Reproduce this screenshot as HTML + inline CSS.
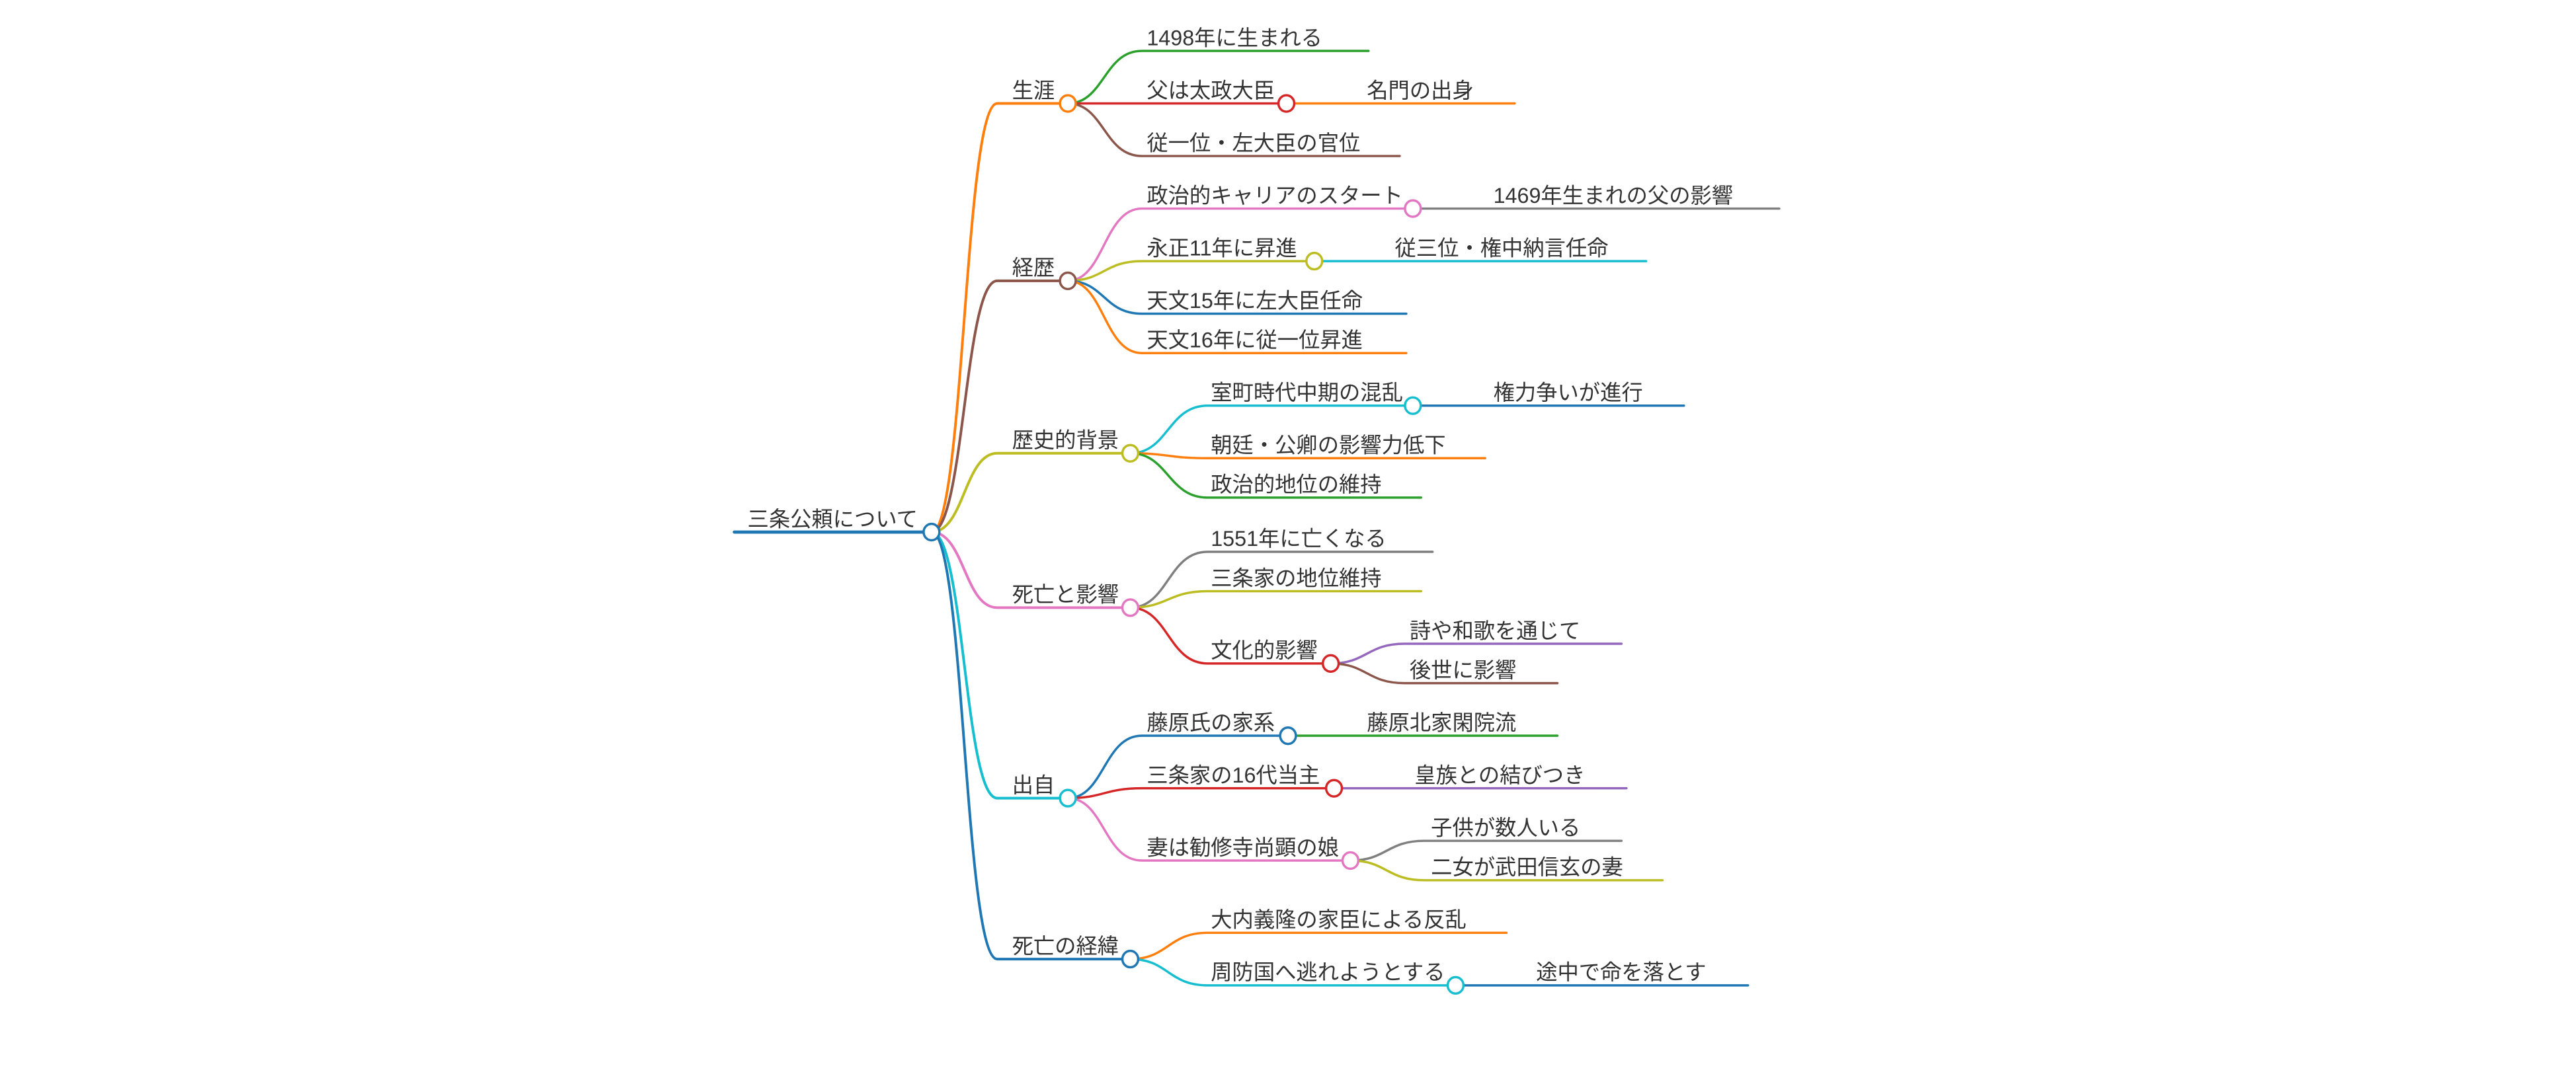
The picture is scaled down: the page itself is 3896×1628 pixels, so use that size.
<!DOCTYPE html>
<html><head><meta charset="utf-8"><style>
html,body{margin:0;padding:0;background:#fff;}
svg{display:block;}
text{font-family:"Liberation Sans","Noto Sans CJK JP",sans-serif;font-size:13px;fill:#333;}
path{fill:none;stroke-linecap:round;}
circle,ellipse{fill:#fff;stroke-width:1.4;}
</style></head><body>
<svg width="3896" height="1628" viewBox="0 0 1568 655.2" xmlns="http://www.w3.org/2000/svg">
<path d="M447 324 L567 324" stroke="#1f77b4" stroke-width="2"/>
<path d="M567 324 C587 324,587 63,607 63 L650 63" stroke="#ff7f0e" stroke-width="1.6"/>
<path d="M567 324 C587 324,587 171,607 171 L650 171" stroke="#8c564b" stroke-width="1.6"/>
<path d="M567 324 C587 324,587 276,607 276 L688 276" stroke="#bcbd22" stroke-width="1.6"/>
<path d="M567 324 C587 324,587 370,607 370 L688 370" stroke="#e377c2" stroke-width="1.6"/>
<path d="M567 324 C587 324,587 486,607 486 L650 486" stroke="#17becf" stroke-width="1.6"/>
<path d="M567 324 C587 324,587 584,607 584 L688 584" stroke="#1f77b4" stroke-width="1.6"/>
<path d="M650 63 C672 63,672 31,695 31 L833 31" stroke="#2ca02c" stroke-width="1.4"/>
<path d="M650 63 L783 63" stroke="#d62728" stroke-width="1.4"/>
<path d="M783 63 L922 63" stroke="#ff7f0e" stroke-width="1.4"/>
<path d="M650 63 C672 63,672 95,695 95 L852 95" stroke="#8c564b" stroke-width="1.4"/>
<path d="M650 171 C672 171,672 127,695 127 L860 127" stroke="#e377c2" stroke-width="1.4"/>
<path d="M860 127 L1083 127" stroke="#7f7f7f" stroke-width="1.4"/>
<path d="M650 171 C672 171,672 159,695 159 L800 159" stroke="#bcbd22" stroke-width="1.4"/>
<path d="M800 159 L1002 159" stroke="#17becf" stroke-width="1.4"/>
<path d="M650 171 C672 171,672 191,695 191 L856 191" stroke="#1f77b4" stroke-width="1.4"/>
<path d="M650 171 C672 171,672 215,695 215 L856 215" stroke="#ff7f0e" stroke-width="1.4"/>
<path d="M688 276 C711 276,711 247,735 247 L860 247" stroke="#17becf" stroke-width="1.4"/>
<path d="M860 247 L1025 247" stroke="#1f77b4" stroke-width="1.4"/>
<path d="M688 276 C711 276,711 279,735 279 L904 279" stroke="#ff7f0e" stroke-width="1.4"/>
<path d="M688 276 C711 276,711 303,735 303 L865 303" stroke="#2ca02c" stroke-width="1.4"/>
<path d="M688 370 C711 370,711 336,735 336 L872 336" stroke="#7f7f7f" stroke-width="1.4"/>
<path d="M688 370 C711 370,711 360,735 360 L865 360" stroke="#bcbd22" stroke-width="1.4"/>
<path d="M688 370 C711 370,711 404,735 404 L810 404" stroke="#d62728" stroke-width="1.4"/>
<path d="M810 404 C832 404,832 392,855 392 L987 392" stroke="#9467bd" stroke-width="1.4"/>
<path d="M810 404 C832 404,832 416,855 416 L948 416" stroke="#8c564b" stroke-width="1.4"/>
<path d="M650 486 C672 486,672 448,695 448 L784 448" stroke="#1f77b4" stroke-width="1.4"/>
<path d="M784 448 L948 448" stroke="#2ca02c" stroke-width="1.4"/>
<path d="M650 486 C672 486,672 480,695 480 L812 480" stroke="#d62728" stroke-width="1.4"/>
<path d="M812 480 L990 480" stroke="#9467bd" stroke-width="1.4"/>
<path d="M650 486 C672 486,672 524,695 524 L822 524" stroke="#e377c2" stroke-width="1.4"/>
<path d="M822 524 C844 524,844 512,867 512 L987 512" stroke="#7f7f7f" stroke-width="1.4"/>
<path d="M822 524 C844 524,844 536,867 536 L1012 536" stroke="#bcbd22" stroke-width="1.4"/>
<path d="M688 584 C711 584,711 568,735 568 L917 568" stroke="#ff7f0e" stroke-width="1.4"/>
<path d="M688 584 C711 584,711 600,735 600 L886 600" stroke="#17becf" stroke-width="1.4"/>
<path d="M886 600 L1064 600" stroke="#1f77b4" stroke-width="1.4"/>
<g transform="translate(0,1.5)">
<text x="455" y="319">三条公頼について</text>
<text x="616" y="58">生涯</text>
<text x="616" y="166">経歴</text>
<text x="616" y="271">歴史的背景</text>
<text x="616" y="365">死亡と影響</text>
<text x="616" y="481">出自</text>
<text x="616" y="579">死亡の経緯</text>
<text x="698" y="26">1498年に生まれる</text>
<text x="698" y="58">父は太政大臣</text>
<text x="832" y="58">名門の出身</text>
<text x="698" y="90">従一位・左大臣の官位</text>
<text x="698" y="122">政治的キャリアのスタート</text>
<text x="909" y="122">1469年生まれの父の影響</text>
<text x="698" y="154">永正11年に昇進</text>
<text x="849" y="154">従三位・権中納言任命</text>
<text x="698" y="186">天文15年に左大臣任命</text>
<text x="698" y="210">天文16年に従一位昇進</text>
<text x="737" y="242">室町時代中期の混乱</text>
<text x="909" y="242">権力争いが進行</text>
<text x="737" y="274">朝廷・公卿の影響力低下</text>
<text x="737" y="298">政治的地位の維持</text>
<text x="737" y="331">1551年に亡くなる</text>
<text x="737" y="355">三条家の地位維持</text>
<text x="737" y="399">文化的影響</text>
<text x="858" y="387">詩や和歌を通じて</text>
<text x="858" y="411">後世に影響</text>
<text x="698" y="443">藤原氏の家系</text>
<text x="832" y="443">藤原北家閑院流</text>
<text x="698" y="475">三条家の16代当主</text>
<text x="861" y="475">皇族との結びつき</text>
<text x="698" y="519">妻は勧修寺尚顕の娘</text>
<text x="871" y="507">子供が数人いる</text>
<text x="871" y="531">二女が武田信玄の妻</text>
<text x="737" y="563">大内義隆の家臣による反乱</text>
<text x="737" y="595">周防国へ逃れようとする</text>
<text x="935" y="595">途中で命を落とす</text>
</g>
<ellipse cx="567" cy="324" rx="4.8" ry="5" stroke="#1f77b4"/>
<ellipse cx="650" cy="63" rx="4.8" ry="5" stroke="#ff7f0e"/>
<ellipse cx="783" cy="63" rx="4.8" ry="5" stroke="#d62728"/>
<ellipse cx="650" cy="171" rx="4.8" ry="5" stroke="#8c564b"/>
<ellipse cx="860" cy="127" rx="4.8" ry="5" stroke="#e377c2"/>
<ellipse cx="800" cy="159" rx="4.8" ry="5" stroke="#bcbd22"/>
<ellipse cx="688" cy="276" rx="4.8" ry="5" stroke="#bcbd22"/>
<ellipse cx="860" cy="247" rx="4.8" ry="5" stroke="#17becf"/>
<ellipse cx="688" cy="370" rx="4.8" ry="5" stroke="#e377c2"/>
<ellipse cx="810" cy="404" rx="4.8" ry="5" stroke="#d62728"/>
<ellipse cx="650" cy="486" rx="4.8" ry="5" stroke="#17becf"/>
<ellipse cx="784" cy="448" rx="4.8" ry="5" stroke="#1f77b4"/>
<ellipse cx="812" cy="480" rx="4.8" ry="5" stroke="#d62728"/>
<ellipse cx="822" cy="524" rx="4.8" ry="5" stroke="#e377c2"/>
<ellipse cx="688" cy="584" rx="4.8" ry="5" stroke="#1f77b4"/>
<ellipse cx="886" cy="600" rx="4.8" ry="5" stroke="#17becf"/>
</svg>
</body></html>
